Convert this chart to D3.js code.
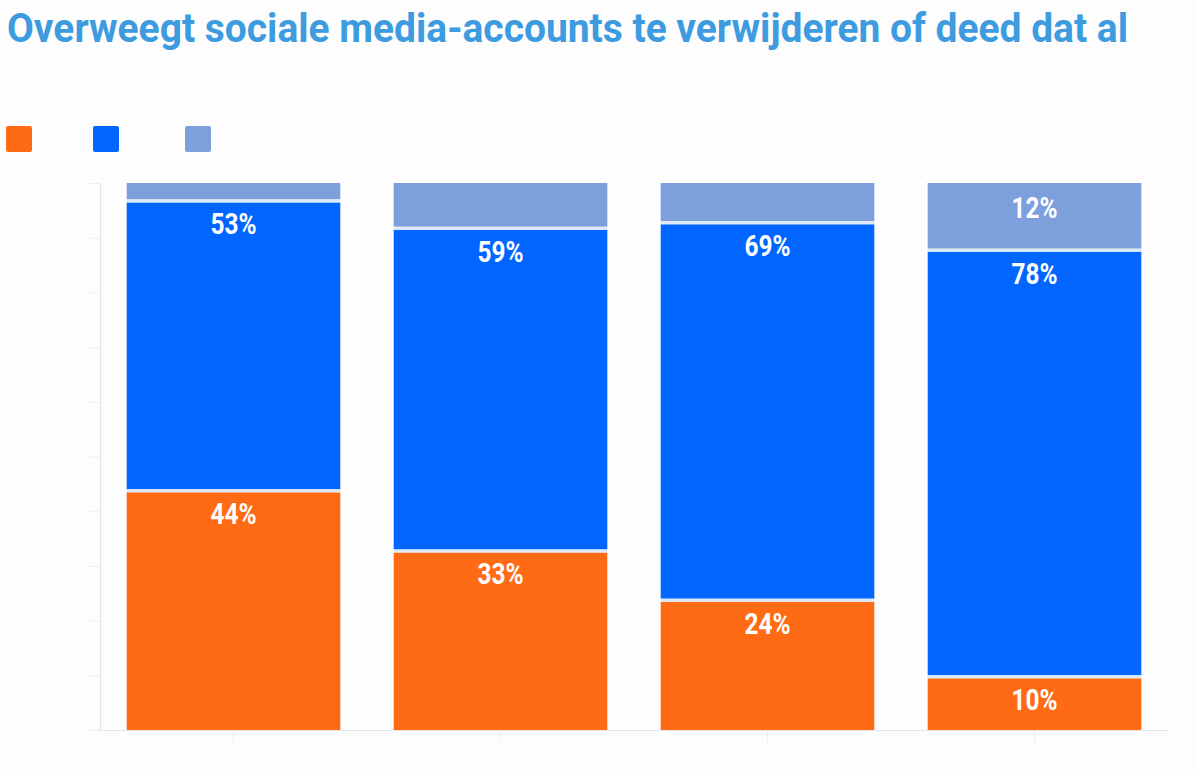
<!DOCTYPE html>
<html>
<head>
<meta charset="utf-8">
<script src="https://cdn.jsdelivr.net/npm/d3@7"></script>
<style>
  html, body { margin: 0; padding: 0; background: #fdfdfe; }
  svg { display: block; }
</style>
</head>
<body>
<svg id="chart" width="1196" height="774"></svg>
<script>
const title = "Overweegt sociale media-accounts te verwijderen of deed dat al";
const categories = ["A", "B", "C", "D"];
const seriesNames = ["deed", "overweegt", "niet"];
const seriesColors = ["#ff6a14", "#0066ff", "#7d9fdc"];
const deedValues = [44, 33, 24, 10];
const overweegtValues = [53, 59, 69, 78];
const nietValues = [3, 8, 7, 12];
const yTicks = [0, 10, 20, 30, 40, 50, 60, 70, 80, 90, 100];

const data = categories.map((c, i) => ({
  cat: c, deed: deedValues[i], overweegt: overweegtValues[i], niet: nietValues[i]
}));

const svg = d3.select("#chart");
const W = 1196, H = 774;
const m = { left: 100, right: 28, top: 183, bottom: 44 };

svg.append("rect").attr("width", W).attr("height", H).attr("fill", "#fdfdfe");

// Title
svg.append("text")
  .attr("x", 7).attr("y", 42)
  .attr("font-family", "Roboto, 'Open Sans', sans-serif")
  .attr("font-weight", 700)
  .attr("font-size", 41)
  .attr("fill", "#3d9be0")
  .attr("textLength", 1121)
  .attr("lengthAdjust", "spacingAndGlyphs")
  .text(title);

// Legend (swatches only)
const legendX = [6, 93, 185];
svg.append("g").selectAll("rect").data(seriesNames).join("rect")
  .attr("x", (d, i) => legendX[i]).attr("y", 126)
  .attr("width", 26).attr("height", 26).attr("rx", 2)
  .attr("fill", (d, i) => seriesColors[i]);

const x = d3.scaleBand().domain(categories)
  .range([m.left, W - m.right]).paddingInner(0.2).paddingOuter(0.1);
const y = d3.scaleLinear().domain([0, 100]).range([H - m.bottom, m.top]);

// Y axis (no labels)
const yAxis = svg.append("g").attr("transform", `translate(${m.left},0)`)
  .call(d3.axisLeft(y).tickValues(yTicks).tickSize(10).tickFormat(""));
yAxis.selectAll("path").attr("stroke", "#e3e5e8");
yAxis.selectAll("line").attr("stroke", "#eceef1");

// X axis
const xAxis = svg.append("g").attr("transform", `translate(0,${H - m.bottom})`)
  .call(d3.axisBottom(x).tickSize(12).tickSizeOuter(0).tickFormat(""));
xAxis.selectAll("path").attr("stroke", "#e3e5e8");
xAxis.selectAll("line").attr("stroke", "#eceef1");

const stack = d3.stack().keys(seriesNames);
const stacked = stack(data);

const g = svg.append("g");
stacked.forEach((layer, li) => {
  g.append("g").selectAll("rect").data(layer).join("rect")
    .attr("x", d => x(d.data.cat))
    .attr("width", x.bandwidth())
    .attr("y", d => y(d[1]))
    .attr("height", d => Math.max(0, y(d[0]) - y(d[1]) - (li < 2 ? 3 : 0)))
    .attr("transform", li < 2 ? "translate(0,3)" : null)
    .attr("fill", seriesColors[li]);
});

// Separator lines (light)
stacked.slice(0, 2).forEach(layer => {
  g.append("g").selectAll("line").data(layer).join("line")
    .attr("x1", d => x(d.data.cat)).attr("x2", d => x(d.data.cat) + x.bandwidth())
    .attr("y1", d => y(d[1]) + 1.5).attr("y2", d => y(d[1]) + 1.5)
    .attr("stroke", "#dfeaf8").attr("stroke-width", 3);
});

// Labels
stacked.forEach(layer => {
  const key = layer.key;
  g.append("g").selectAll("text").data(layer.filter(d => d.data[key] >= 10)).join("text")
    .attr("x", d => x(d.data.cat) + x.bandwidth() / 2)
    .attr("y", d => y(d[1]) + 35)
    .attr("text-anchor", "middle")
    .attr("font-family", "Roboto, 'Open Sans', sans-serif")
    .attr("font-weight", 700)
    .attr("font-size", 29)
    .attr("fill", "#ffffff")
    .attr("textLength", 46)
    .attr("lengthAdjust", "spacingAndGlyphs")
    .text(d => d.data[key] + "%");
});
</script>
</body>
</html>
